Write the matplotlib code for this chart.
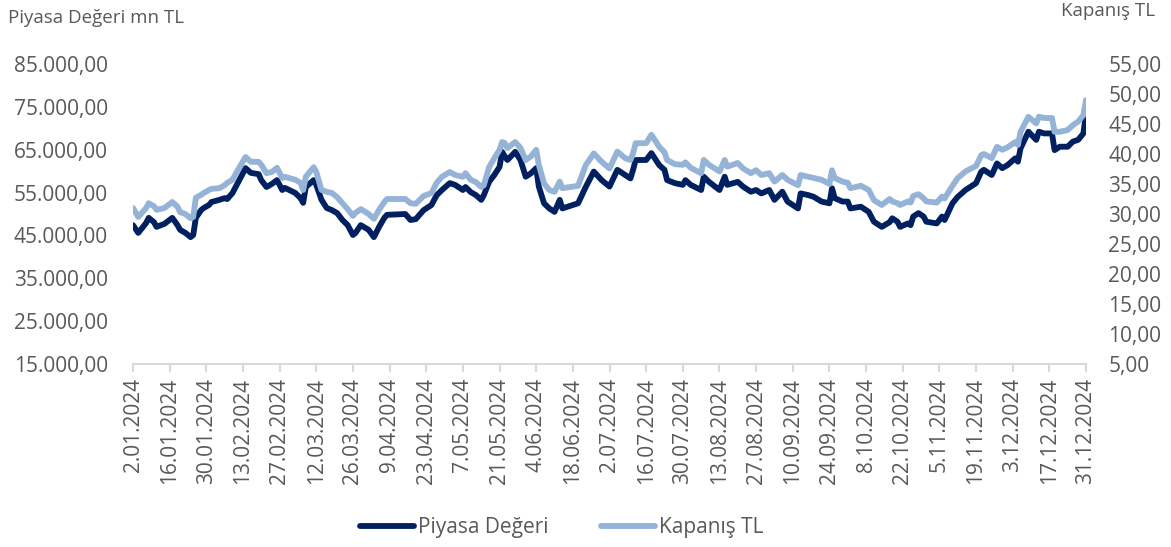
import matplotlib
matplotlib.use("Agg")
import matplotlib.pyplot as plt
from matplotlib.ticker import FuncFormatter, MultipleLocator
import pandas as pd

# daily-ish readings
dates = [
    "2024-01-02", "2024-01-04", "2024-01-07", "2024-01-08", "2024-01-10", "2024-01-11",
    "2024-01-14", "2024-01-17", "2024-01-19", "2024-01-20", "2024-01-22", "2024-01-24",
    "2024-01-25", "2024-01-26", "2024-01-28", "2024-01-29", "2024-01-31", "2024-02-01",
    "2024-02-04", "2024-02-06", "2024-02-07", "2024-02-09", "2024-02-11", "2024-02-14",
    "2024-02-16", "2024-02-19", "2024-02-20", "2024-02-22", "2024-02-24", "2024-02-26",
    "2024-02-28", "2024-02-29", "2024-03-04", "2024-03-06", "2024-03-07", "2024-03-08",
    "2024-03-11", "2024-03-12", "2024-03-14", "2024-03-16", "2024-03-18", "2024-03-20",
    "2024-03-22", "2024-03-24", "2024-03-26", "2024-03-27", "2024-03-29", "2024-04-01",
    "2024-04-03", "2024-04-05", "2024-04-07", "2024-04-08", "2024-04-15", "2024-04-17",
    "2024-04-19", "2024-04-22", "2024-04-25", "2024-04-27", "2024-04-29", "2024-05-02",
    "2024-05-04", "2024-05-07", "2024-05-08", "2024-05-10", "2024-05-12", "2024-05-14",
    "2024-05-15", "2024-05-17", "2024-05-19", "2024-05-21", "2024-05-22", "2024-05-23",
    "2024-05-24", "2024-05-27", "2024-05-29", "2024-05-31", "2024-06-02", "2024-06-04",
    "2024-06-05", "2024-06-07", "2024-06-09", "2024-06-11", "2024-06-13", "2024-06-14",
    "2024-06-20", "2024-06-23", "2024-06-26", "2024-06-29", "2024-07-02", "2024-07-05",
    "2024-07-08", "2024-07-10", "2024-07-11", "2024-07-12", "2024-07-16", "2024-07-18",
    "2024-07-21", "2024-07-23", "2024-07-24", "2024-07-27", "2024-07-30", "2024-07-31",
    "2024-08-02", "2024-08-06", "2024-08-07", "2024-08-09", "2024-08-13", "2024-08-15",
    "2024-08-16", "2024-08-20", "2024-08-22", "2024-08-25", "2024-08-27", "2024-08-29",
    "2024-09-01", "2024-09-03", "2024-09-06", "2024-09-08", "2024-09-12", "2024-09-13",
    "2024-09-16", "2024-09-18", "2024-09-21", "2024-09-24", "2024-09-25", "2024-09-26",
    "2024-09-29", "2024-10-01", "2024-10-02", "2024-10-06", "2024-10-09", "2024-10-11",
    "2024-10-14", "2024-10-17", "2024-10-18", "2024-10-20", "2024-10-21", "2024-10-24",
    "2024-10-25", "2024-10-26", "2024-10-28", "2024-10-30", "2024-10-31", "2024-11-04",
    "2024-11-06", "2024-11-07", "2024-11-10", "2024-11-12", "2024-11-15", "2024-11-19",
    "2024-11-21", "2024-11-22", "2024-11-25", "2024-11-27", "2024-11-29", "2024-12-01",
    "2024-12-04", "2024-12-05", "2024-12-06", "2024-12-09", "2024-12-12", "2024-12-13",
    "2024-12-15", "2024-12-18", "2024-12-19", "2024-12-21", "2024-12-24", "2024-12-26",
    "2024-12-28", "2024-12-30", "2024-12-31",
]

piyasa_degeri = [
    47400, 45600, 47900, 49100, 48100, 47000,
    47700, 49100, 47400, 46300, 45600, 44600,
    45100, 49100, 50900, 51400, 52100, 52800,
    53300, 53700, 53500, 54900, 57200, 60700,
    59600, 59300, 57900, 56300, 57000, 57900,
    55600, 56100, 54900, 53700, 52600, 56300,
    57900, 56800, 53300, 51400, 50900, 50200,
    48600, 47400, 45100, 45600, 47400, 46300,
    44600, 47000, 49100, 49800, 50000, 48600,
    48800, 50900, 52100, 54400, 55600, 57200,
    56800, 55600, 56300, 55100, 54400, 53300,
    54400, 57500, 59100, 61000, 64500, 63400,
    62600, 64500, 62600, 58700, 59500, 60700,
    56400, 52500, 51300, 50500, 53300, 51300,
    52500, 56400, 59900, 57900, 56400, 60300,
    59100, 58300, 60300, 62600, 62600, 64200,
    61400, 60300, 57900, 57200, 56800, 57900,
    56800, 55600, 58700, 57500, 55600, 58700,
    56800, 57500, 56400, 55200, 55600, 54800,
    55600, 53300, 55200, 52900, 51300, 54800,
    54400, 54000, 52900, 52500, 56000, 53700,
    52900, 52900, 51300, 51700, 50500, 48200,
    47000, 48100, 49000, 48200, 47000, 47800,
    47400, 49400, 50200, 49400, 48200, 47800,
    49400, 48600, 52500, 54000, 55600, 57200,
    59900, 60300, 59100, 61800, 60700, 61400,
    63000, 62200, 65300, 69200, 67300, 69200,
    68800, 68800, 64900, 65700, 65700, 66900,
    67300, 68800, 73500,
]

kapanis = [
    31.0, 29.5, 31.0, 31.8, 31.3, 30.7,
    31.0, 32.0, 31.2, 30.3, 30.0, 29.3,
    29.5, 32.7, 33.2, 33.5, 34.0, 34.2,
    34.3, 34.8, 35.2, 35.7, 37.3, 39.5,
    38.7, 38.7, 38.2, 36.8, 37.0, 37.7,
    36.0, 36.2, 35.7, 35.2, 34.0, 36.2,
    37.8, 37.0, 34.0, 33.7, 33.5, 32.8,
    31.8, 30.8, 29.7, 30.2, 30.8, 30.0,
    29.2, 30.7, 32.0, 32.5, 32.5, 31.8,
    31.7, 33.0, 33.5, 35.2, 36.2, 37.0,
    36.5, 36.2, 36.8, 35.7, 35.3, 34.5,
    34.8, 37.8, 39.3, 40.7, 42.0, 41.8,
    41.0, 42.0, 41.0, 39.0, 39.6, 40.7,
    38.2, 35.1, 34.0, 33.7, 35.4, 34.3,
    34.7, 38.2, 40.1, 38.7, 37.6, 40.4,
    39.3, 39.0, 40.1, 41.8, 41.8, 43.2,
    41.2, 40.3, 39.0, 38.3, 38.2, 38.6,
    37.7, 36.8, 39.0, 38.2, 37.1, 39.0,
    37.9, 38.5, 37.6, 36.8, 37.3, 36.5,
    36.8, 35.4, 36.5, 35.7, 34.8, 36.5,
    36.2, 36.0, 35.7, 35.0, 37.3, 36.0,
    35.4, 35.2, 34.3, 34.7, 34.0, 32.3,
    31.5, 32.5, 32.1, 31.8, 31.5, 32.1,
    31.9, 33.0, 33.3, 32.6, 32.1, 31.9,
    32.9, 32.6, 34.7, 36.0, 37.1, 38.0,
    39.8, 40.0, 39.3, 41.2, 40.7, 41.1,
    42.0, 41.5, 43.7, 46.2, 45.1, 46.2,
    46.0, 46.0, 43.7, 43.7, 44.0, 44.8,
    45.4, 46.5, 49.0,
]

left_ticks = [15000, 25000, 35000, 45000, 55000, 65000, 75000, 85000]

x = pd.to_datetime(dates)
text_col = "#595959"
dark = "#002060"
light = "#95B3D7"

plt.rcParams["font.family"] = ["Open Sans", "DejaVu Sans"]

fig = plt.figure(figsize=(11.71, 5.47), dpi=100)
ax = fig.add_axes([133 / 1171, 1 - 364 / 547, (1086 - 133) / 1171, 300 / 547])
ax2 = ax.twinx()

l1, = ax.plot(x, piyasa_degeri, color=dark, lw=4.2, solid_capstyle="round",
              solid_joinstyle="round", label="Piyasa Değeri")
l2, = ax2.plot(x, kapanis, color=light, lw=4.2, solid_capstyle="round",
               solid_joinstyle="round", label="Kapanış TL")

ax.set_xlim(pd.Timestamp("2024-01-02"), pd.Timestamp("2024-12-31"))
ax.set_ylim(15000, 85000)
ax2.set_ylim(5, 55)
ax.set_yticks(left_ticks)
ax2.yaxis.set_major_locator(MultipleLocator(5))


def tr_num(v, pos):
    s = f"{v:,.2f}"
    return s.replace(",", "X").replace(".", ",").replace("X", ".")


ax.yaxis.set_major_formatter(FuncFormatter(tr_num))
ax2.yaxis.set_major_formatter(FuncFormatter(tr_num))

ticks = pd.date_range("2024-01-02", "2024-12-31", freq="14D")
ax.set_xticks(ticks)
ax.set_xticklabels([f"{d.day}.{d.month:02d}.{d.year}" for d in ticks], rotation=90)

for a in (ax, ax2):
    for s in a.spines.values():
        s.set_visible(False)
ax.spines["bottom"].set_visible(True)
ax.spines["bottom"].set_color("#D9D9D9")
ax.spines["bottom"].set_linewidth(1.5)

ax.tick_params(axis="x", colors="#D9D9D9", length=6, width=1.5, labelcolor=text_col,
               labelsize=15, pad=4)
ax.tick_params(axis="y", length=0, labelcolor=text_col, labelsize=15, pad=18)
ax2.tick_params(axis="y", length=0, labelcolor=text_col, labelsize=15, pad=16)

fig.text(8 / 1171, 1 - 18 / 547, "Piyasa Değeri mn TL", color=text_col, fontsize=13.5,
         va="center", ha="left")
fig.text(1155 / 1171, 1 - 11 / 547, "Kapanış TL", color=text_col, fontsize=13.5,
         va="center", ha="right")

fig.legend(handles=[l1, l2], loc="center", bbox_to_anchor=(562 / 1171, 19 / 547), ncol=2,
           frameon=False, fontsize=15, handlelength=2.6, handletextpad=0.2,
           columnspacing=2.5, labelcolor=text_col)

fig.savefig("out.png", dpi=100, facecolor="white")
